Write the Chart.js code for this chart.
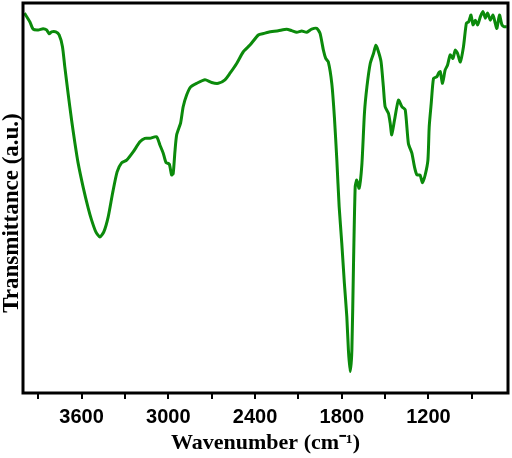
<!DOCTYPE html>
<html>
<head>
<meta charset="utf-8">
<script src="https://cdn.jsdelivr.net/npm/chart.js@4"></script>
<style>
  html, body { margin: 0; padding: 0; background: #fff; }
  #wrap { width: 512px; height: 458px; }
</style>
</head>
<body>
<div id="wrap"><canvas id="ftir" width="512" height="458"></canvas></div>
<script>
// FTIR spectrum
const wavenumber = [
  3995, 3958, 3935, 3900, 3866, 3842, 3824, 3808, 3778, 3755,
  3732, 3716, 3693, 3669, 3646, 3624, 3589, 3554, 3531, 3501,
  3473, 3446, 3416, 3385, 3354, 3323, 3288, 3243, 3196, 3162,
  3127, 3081, 3058, 3035, 3016, 2993, 2977, 2966, 2954, 2942,
  2915, 2897, 2873, 2845, 2804, 2746, 2700, 2654, 2608, 2573,
  2527, 2481, 2435, 2377, 2338, 2308, 2239, 2181, 2146, 2111,
  2077, 2042, 2008, 1973, 1950, 1927, 1911, 1893, 1869, 1851,
  1834, 1818, 1800, 1782, 1765, 1754, 1742, 1730, 1719, 1707,
  1696, 1680, 1661, 1643, 1626, 1603, 1580, 1564, 1546, 1528,
  1512, 1500, 1477, 1465, 1454, 1435, 1408, 1384, 1361, 1339,
  1315, 1297, 1280, 1258, 1242, 1223, 1204, 1195, 1181, 1165,
  1142, 1131, 1119, 1103, 1085, 1068, 1050, 1031, 1015, 999,
  980, 958, 938, 922, 906, 892, 876, 860, 841, 823,
  807, 791, 772, 754, 738, 727, 709, 692, 675, 659
];
const transmittance = [
  97.4, 95.2, 93.3, 93.1, 93.4, 93.1, 92.1, 92.6, 92.6, 91.8,
  88.8, 83.7, 76.8, 70.0, 64.1, 59.0, 52.8, 47.4, 44.4, 41.3,
  40.0, 41.3, 45.1, 51.3, 56.7, 59.0, 59.7, 61.8, 64.4, 65.3,
  65.3, 65.7, 63.6, 61.5, 59.1, 58.7, 55.9, 56.3, 61.9, 66.2,
  69.2, 73.4, 76.4, 78.5, 79.4, 80.3, 79.6, 79.4, 80.3, 82.0,
  84.5, 87.5, 89.2, 91.8, 92.2, 92.5, 92.9, 93.3, 92.9, 92.5,
  92.8, 92.5, 93.3, 93.5, 92.2, 87.9, 85.8, 84.9, 79.4, 70.8,
  59.7, 47.8, 38.5, 28.2, 19.6, 11.0, 5.5, 11.0, 32.4, 52.9,
  54.6, 52.5, 58.5, 71.8, 78.5, 84.5, 87.1, 89.2, 87.5, 84.9,
  78.5, 73.4, 71.7, 69.2, 66.2, 70.0, 75.1, 73.4, 72.6, 64.0,
  61.5, 58.0, 55.9, 55.9, 53.9, 55.9, 59.7, 68.3, 74.3, 80.7,
  81.1, 82.0, 82.4, 79.4, 82.8, 84.1, 86.7, 85.8, 87.9, 87.1,
  84.9, 88.8, 94.8, 95.2, 96.9, 94.4, 95.6, 94.4, 96.5, 97.8,
  96.1, 97.4, 95.6, 96.9, 94.8, 93.5, 96.9, 94.4, 93.9, 93.9
];
const xTicks = [3900, 3600, 3300, 3000, 2700, 2400, 2100, 1800, 1500, 1200, 900];
const xLabeled = [3600, 3000, 2400, 1800, 1200];

const points = wavenumber.map((w, i) => ({ x: w, y: transmittance[i] }));

// thick black frame round the plot area, plus the rotated y title
const frame = {
  id: 'frame',
  afterDraw(chart) {
    const a = chart.chartArea, ctx = chart.ctx;
    ctx.save();
    ctx.strokeStyle = '#000';
    ctx.lineWidth = 3;
    ctx.strokeRect(a.left, a.top, a.right - a.left, a.bottom - a.top);
    ctx.translate(12, 213);
    ctx.rotate(-Math.PI / 2);
    ctx.fillStyle = '#000';
    ctx.font = 'bold 23px "Liberation Serif"';
    ctx.textAlign = 'center';
    ctx.textBaseline = 'middle';
    ctx.fillText('Transmittance (a.u.)', 0, 0);
    ctx.restore();
  }
};

new Chart(document.getElementById('ftir').getContext('2d'), {
  type: 'line',
  data: {
    datasets: [{
      data: points,
      borderColor: '#0b8a0b',
      borderWidth: 3,
      pointRadius: 0,
      tension: 0.2,
      fill: false
    }]
  },
  options: {
    responsive: false,
    animation: false,
    devicePixelRatio: 1,
    layout: { padding: { top: 3, right: 4, left: 0, bottom: 0 } },
    plugins: { legend: { display: false }, tooltip: { enabled: false } },
    scales: {
      x: {
        type: 'linear',
        reverse: true,
        min: 650,
        max: 4005,
        afterFit(scale) { scale.height = 65; },
        afterBuildTicks(scale) { scale.ticks = xTicks.map(v => ({ value: v })); },
        border: { display: false },
        grid: {
          drawOnChartArea: false,
          drawTicks: true,
          tickLength: 6,
          lineWidth: 2,
          color: '#000'
        },
        ticks: {
          autoSkip: false,
          maxRotation: 0,
          padding: 6,
          color: '#000',
          font: { family: 'Liberation Sans', size: 20, weight: 'bold' },
          callback: v => xLabeled.includes(v) ? String(v) : ''
        },
        title: {
          display: true,
          text: 'Wavenumber (cm\u207B\u00B9)',
          color: '#000',
          padding: { top: 0, bottom: 1 },
          font: { family: 'Liberation Serif', size: 22, weight: 'bold' }
        }
      },
      y: {
        min: 0,
        max: 100,
        afterFit(scale) { scale.width = 23; },
        border: { display: false },
        grid: { display: false },
        ticks: { display: false },
        title: { display: false }
      }
    }
  },
  plugins: [frame]
});
</script>
</body>
</html>
